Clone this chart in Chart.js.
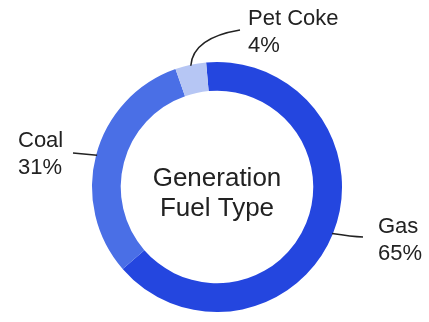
<!DOCTYPE html>
<html>
<head>
<meta charset="utf-8">
<script src="https://cdn.jsdelivr.net/npm/chart.js@4.4.1/dist/chart.umd.min.js"></script>
<style>
  html, body { margin: 0; padding: 0; background: #fff; }
  #wrap { width: 429px; height: 322px; }
</style>
</head>
<body>
<div id="wrap"><canvas id="fuel" width="429" height="322"></canvas></div>
<script>
const fuelLabels = ['Gas', 'Coal', 'Pet Coke'];
const fuelShare = [65, 31, 4];
const fuelColors = ['#2446df', '#4a6fe6', '#b6c6f4'];
const centerLines = ['Generation', 'Fuel Type'];

const FONT = '"Liberation Sans", Arial, sans-serif';
const INK = '#222222';

// label anchor (relative to the ring centre), leader end offset and curve control
const labelSpots = [
  { x: 161, y: 59, end: [-15, -9], ctrl: [20, 3] },   // Gas
  { x: -199, y: -27, end: [55, -7], ctrl: null },     // Coal
  { x: 31, y: -149, end: [-8, -8], ctrl: [2, -28] }   // Pet Coke
];

const centerText = {
  id: 'centerText',
  afterDraw(chart) {
    const arc = chart.getDatasetMeta(0).data[0];
    const ctx = chart.ctx;
    ctx.save();
    ctx.fillStyle = INK;
    ctx.font = '26px ' + FONT;
    ctx.textAlign = 'center';
    ctx.textBaseline = 'alphabetic';
    ctx.fillText(centerLines[0], arc.x, arc.y - 1);
    ctx.fillText(centerLines[1], arc.x, arc.y + 29);
    ctx.restore();
  }
};

const outerLabels = {
  id: 'outerLabels',
  afterDraw(chart) {
    const ctx = chart.ctx;
    const meta = chart.getDatasetMeta(0);
    const total = fuelShare.reduce((a, b) => a + b, 0);
    ctx.save();
    meta.data.forEach((arc, i) => {
      const mid = (arc.startAngle + arc.endAngle) / 2;
      const ax = arc.x + Math.cos(mid) * (arc.outerRadius - 1);
      const ay = arc.y + Math.sin(mid) * (arc.outerRadius - 1);
      const spot = labelSpots[i];
      const lx = arc.x + spot.x;
      const ly = arc.y + spot.y;
      const ex = lx + spot.end[0];
      const ey = ly + spot.end[1];

      // leader line from the ring to the text
      ctx.strokeStyle = INK;
      ctx.lineWidth = 1.5;
      ctx.beginPath();
      ctx.moveTo(ax, ay);
      if (spot.ctrl) {
        ctx.quadraticCurveTo(ax + spot.ctrl[0], ay + spot.ctrl[1], ex, ey);
      } else {
        ctx.lineTo(ex, ey);
      }
      ctx.stroke();

      const pct = Math.round(fuelShare[i] / total * 100) + '%';
      ctx.fillStyle = INK;
      ctx.font = '22px ' + FONT;
      ctx.textAlign = 'left';
      ctx.textBaseline = 'alphabetic';
      ctx.fillText(fuelLabels[i], lx, ly - 13);
      ctx.fillText(pct, lx, ly + 14);
    });
    ctx.restore();
  }
};

const fuelConfig = {
  type: 'doughnut',
  data: {
    labels: fuelLabels,
    datasets: [
      {
        data: fuelShare,
        backgroundColor: fuelColors,
        borderWidth: 0,
      },
    ],
  },
  options: {
    responsive: false,
    animation: false,
    cutout: '77%',
    rotation: -5,
    layout: {
      padding: { top: 62, bottom: 10, left: 5, right: 0 },
    },
    plugins: {
      legend: { display: false },
      tooltip: { enabled: false },
    },
  },
  plugins: [centerText, outerLabels],
}

const fuelCtx = document.getElementById('fuel')
window.fuelChart = new Chart(fuelCtx, fuelConfig)
</script>
</body>
</html>
